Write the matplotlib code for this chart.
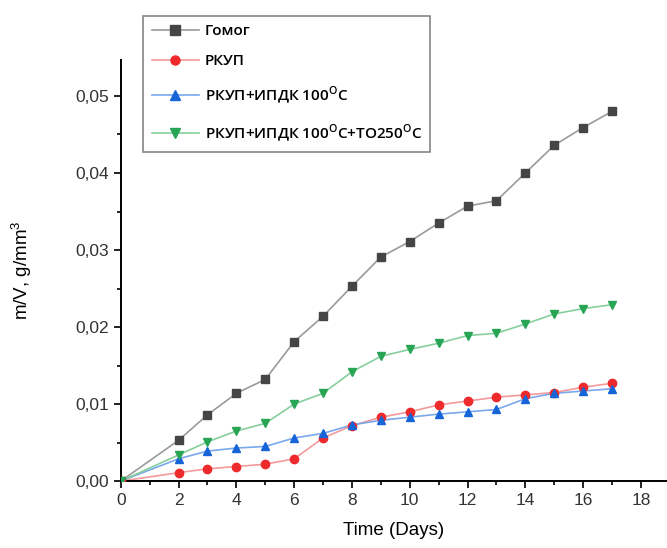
import matplotlib
matplotlib.use("Agg")
import matplotlib.pyplot as plt
from matplotlib.ticker import MultipleLocator, FuncFormatter

days = [0, 2, 3, 4, 5, 6, 7, 8, 9, 10, 11, 12, 13, 14, 15, 16, 17]

gomog = [0, 0.0053, 0.0086, 0.0114, 0.0132, 0.0181, 0.0214, 0.0253, 0.0291,
         0.0311, 0.0335, 0.0357, 0.0364, 0.0400, 0.0436, 0.0459, 0.0480]
rkup = [0, 0.0011, 0.0016, 0.0019, 0.0022, 0.0029, 0.0056, 0.0072, 0.0083,
        0.0090, 0.0099, 0.0104, 0.0109, 0.0112, 0.0115, 0.0122, 0.0127]
rkup_ipdk = [0, 0.0029, 0.0039, 0.0043, 0.0045, 0.0056, 0.0062, 0.0073, 0.0079,
             0.0083, 0.0087, 0.0090, 0.0093, 0.0107, 0.0114, 0.0117, 0.0120]
rkup_ipdk_to = [0, 0.0034, 0.0051, 0.0065, 0.0075, 0.0100, 0.0114, 0.0142, 0.0162,
                0.0171, 0.0179, 0.0189, 0.0192, 0.0204, 0.0217, 0.0224, 0.0229]

labels = ["Гомог", "РКУП", r"РКУП+ИПДК 100$^\mathregular{O}$C",
          r"РКУП+ИПДК 100$^\mathregular{O}$C+ТО250$^\mathregular{O}$C"]
series = [gomog, rkup, rkup_ipdk, rkup_ipdk_to]
colors = ["#454545", "#ee2a2d", "#1565d8", "#27a555"]
line_colors = ["#9a9a9a", "#f39a9b", "#7aa8ec", "#86cf9d"]
markers = ["s", "o", "^", "v"]

plt.rcParams["font.family"] = ["Liberation Sans", "DejaVu Sans"]

fig = plt.figure(figsize=(6.67, 5.48), dpi=100)
ax = fig.add_axes([0.181, 0.122, 0.819, 0.769])

handles = []
for ys, lab, c, lc, m in zip(series, labels, colors, line_colors, markers):
    ax.plot(days, ys, color=lc, lw=1.2, zorder=2)
    ax.plot(days, ys, ls="none", marker=m, color=c, ms=6, zorder=3)
    h, = ax.plot([], [], color=lc, lw=1.2, marker=m, mfc=c, mec=c, ms=6.5)
    handles.append(h)

ax.set_xlim(0, 18.9)
ax.set_ylim(0, 0.0547)
ax.xaxis.set_major_locator(MultipleLocator(2))
ax.xaxis.set_minor_locator(MultipleLocator(1))
ax.yaxis.set_major_locator(MultipleLocator(0.01))
ax.yaxis.set_minor_locator(MultipleLocator(0.005))
ax.yaxis.set_major_formatter(FuncFormatter(lambda v, p: f"{v:.2f}".replace(".", ",")))

for s in ["top", "right"]:
    ax.spines[s].set_visible(False)
for s in ["left", "bottom"]:
    ax.spines[s].set_linewidth(1.4)
ax.tick_params(which="major", direction="out", length=5, width=1.4, labelsize=12.5, colors="#222222")
ax.tick_params(which="minor", direction="out", length=3, width=1.2)
ax.tick_params(axis="both", labelcolor="#333333")

ax.set_xlabel("Time (Days)", fontsize=13.5, labelpad=10)
ax.set_ylabel(r"m/V, g/mm$^\mathregular{3}$", fontsize=13.5, labelpad=30)

leg = fig.legend(handles=handles, labels=labels, loc="upper left",
                 bbox_to_anchor=(0.215, 0.971), frameon=True,
                 fancybox=False, edgecolor="#666666", handlelength=3.1,
                 labelspacing=1.05, borderpad=0.55, handletextpad=0.35,
                 borderaxespad=0.0,
                 prop={"family": ["Open Sans", "DejaVu Sans"], "weight": "semibold", "size": 11})
leg.get_frame().set_linewidth(1.2)

fig.savefig("out.png", dpi=100)
